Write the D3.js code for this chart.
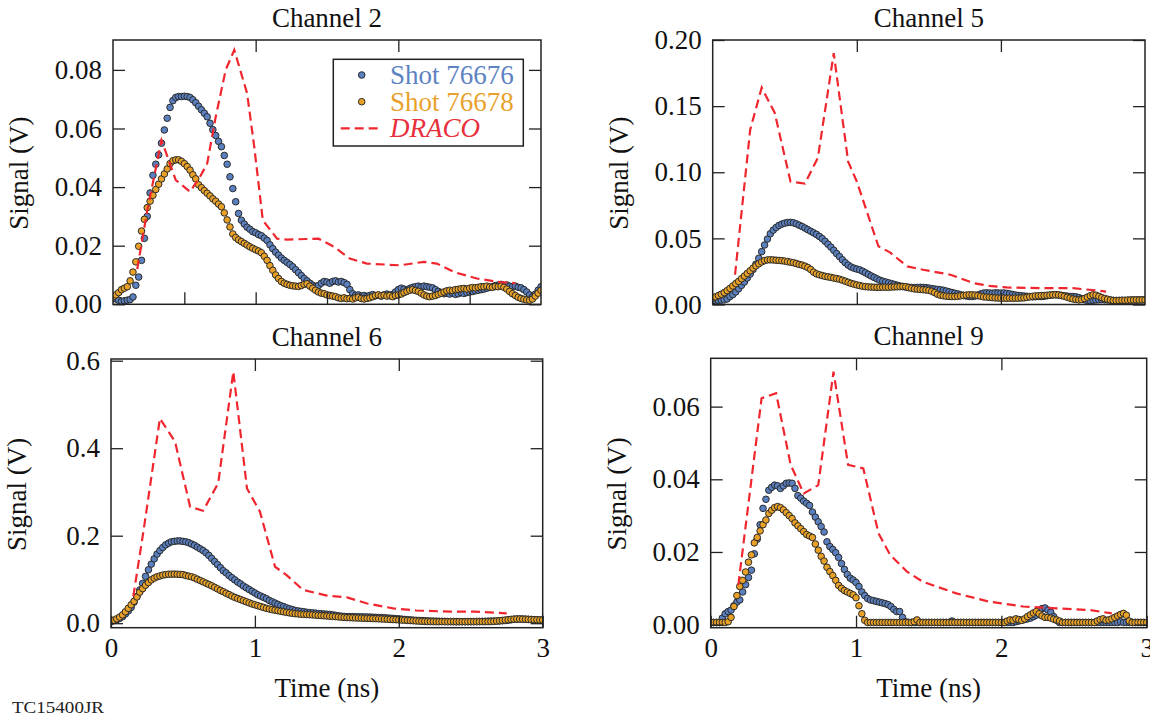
<!DOCTYPE html>
<html><head><meta charset="utf-8">
<script src="https://cdn.jsdelivr.net/npm/d3@7"></script>
<style>
body{margin:0;background:#fff}
</style>
</head><body>
<svg id="chart" width="1150" height="717"></svg>
<script>
// ---------------- DATA ----------------
const sampleStep = 0.02; // ns between digitizer samples (151 samples, 0..3 ns)
const seriesNames = ["Shot 76676", "Shot 76678", "DRACO"];
const channelTitles = ["Channel 2", "Channel 5", "Channel 6", "Channel 9"];
const xTickValues = [0, 1, 2, 3];
const xTickLabels = ["0", "1", "2", "3"];

// Channel 2
const ch2Shot76676 = [
0.0020,0.0018,0.0014,0.0010,0.0012,0.0014,0.0016,0.0025,0.0065,0.0093,
0.0150,0.0225,0.0300,0.0380,0.0440,0.0478,0.0510,0.0550,0.0595,0.0635,
0.0672,0.0695,0.0706,0.0709,0.0709,0.0710,0.0709,0.0706,0.0698,0.0688,
0.0676,0.0664,0.0652,0.0640,0.0618,0.0596,0.0576,0.0556,0.0538,0.0508,
0.0478,0.0435,0.0395,0.0350,0.0310,0.0287,0.0274,0.0263,0.0256,0.0248,
0.0244,0.0238,0.0234,0.0226,0.0218,0.0203,0.0190,0.0178,0.0168,0.0158,
0.0150,0.0143,0.0136,0.0128,0.0118,0.0108,0.0098,0.0088,0.0080,0.0072,
0.0065,0.0060,0.0064,0.0072,0.0078,0.0076,0.0072,0.0078,0.0080,0.0076,
0.0078,0.0074,0.0068,0.0050,0.0036,0.0030,0.0032,0.0028,0.0030,0.0027,
0.0030,0.0033,0.0029,0.0031,0.0028,0.0032,0.0035,0.0030,0.0034,0.0042,
0.0050,0.0055,0.0052,0.0048,0.0054,0.0058,0.0060,0.0062,0.0059,0.0062,
0.0060,0.0058,0.0056,0.0050,0.0044,0.0040,0.0036,0.0038,0.0035,0.0038,
0.0034,0.0036,0.0040,0.0037,0.0040,0.0042,0.0044,0.0046,0.0048,0.0050,
0.0052,0.0055,0.0058,0.0060,0.0064,0.0066,0.0068,0.0063,0.0066,0.0062,
0.0060,0.0062,0.0058,0.0056,0.0050,0.0042,0.0032,0.0026,0.0034,0.0048,
0.0060];
const ch2Shot76678 = [
0.0025,0.0032,0.0040,0.0050,0.0055,0.0060,0.0080,0.0110,0.0145,0.0198,
0.0250,0.0290,0.0330,0.0352,0.0372,0.0392,0.0410,0.0428,0.0445,0.0462,
0.0480,0.0490,0.0493,0.0493,0.0488,0.0480,0.0470,0.0458,0.0442,0.0428,
0.0408,0.0398,0.0388,0.0379,0.0370,0.0360,0.0352,0.0342,0.0333,0.0312,
0.0288,0.0264,0.0240,0.0228,0.0220,0.0214,0.0208,0.0202,0.0196,0.0191,
0.0186,0.0182,0.0176,0.0164,0.0150,0.0132,0.0116,0.0100,0.0088,0.0078,
0.0072,0.0068,0.0065,0.0063,0.0062,0.0061,0.0064,0.0068,0.0070,0.0062,
0.0055,0.0048,0.0042,0.0038,0.0036,0.0032,0.0030,0.0028,0.0026,0.0022,
0.0020,0.0022,0.0019,0.0020,0.0018,0.0022,0.0024,0.0020,0.0018,0.0020,
0.0022,0.0026,0.0030,0.0032,0.0029,0.0031,0.0028,0.0030,0.0026,0.0030,
0.0032,0.0035,0.0040,0.0044,0.0048,0.0050,0.0047,0.0044,0.0038,0.0032,
0.0028,0.0026,0.0028,0.0030,0.0034,0.0038,0.0042,0.0046,0.0048,0.0047,
0.0050,0.0051,0.0053,0.0054,0.0052,0.0055,0.0057,0.0056,0.0058,0.0060,
0.0060,0.0062,0.0059,0.0058,0.0061,0.0060,0.0062,0.0058,0.0052,0.0044,
0.0036,0.0030,0.0024,0.0020,0.0017,0.0015,0.0014,0.0018,0.0028,0.0038,
0.0048];
const ch2DracoTime   = [0.17,0.24,0.34,0.44,0.54,0.61,0.66,0.72,0.79,0.85,0.94,0.99,1.05,1.15,1.22,1.44,1.55,1.66,1.78,2.01,2.18,2.27,2.39,2.55,2.71,2.82];
const ch2DracoSignal = [0.012,0.032,0.056,0.0424,0.0384,0.0435,0.048,0.064,0.080,0.0868,0.072,0.0538,0.0287,0.0224,0.0221,0.0224,0.0196,0.0156,0.0139,0.0133,0.0145,0.0139,0.011,0.0088,0.0076,0.0072];
const ch2YTicks = [0, 0.02, 0.04, 0.06, 0.08];
const ch2YTickLabels = ["0.00", "0.02", "0.04", "0.06", "0.08"];

// Channel 5
const ch5Shot76676 = [
0.0030,0.0030,0.0031,0.0033,0.0035,0.0042,0.0060,0.0075,0.0095,0.0120,
0.0145,0.0170,0.0200,0.0230,0.0265,0.0305,0.0350,0.0400,0.0450,0.0495,
0.0535,0.0562,0.0582,0.0598,0.0608,0.0615,0.0620,0.0621,0.0618,0.0610,
0.0600,0.0590,0.0578,0.0566,0.0554,0.0542,0.0530,0.0515,0.0498,0.0478,
0.0456,0.0434,0.0410,0.0385,0.0362,0.0338,0.0316,0.0298,0.0284,0.0275,
0.0268,0.0262,0.0252,0.0240,0.0228,0.0216,0.0205,0.0194,0.0184,0.0176,
0.0170,0.0164,0.0158,0.0152,0.0146,0.0140,0.0136,0.0132,0.0130,0.0129,
0.0128,0.0129,0.0130,0.0129,0.0127,0.0124,0.0120,0.0117,0.0114,0.0111,
0.0108,0.0102,0.0096,0.0090,0.0085,0.0080,0.0074,0.0069,0.0064,0.0061,
0.0060,0.0064,0.0072,0.0080,0.0086,0.0088,0.0087,0.0085,0.0088,0.0087,
0.0086,0.0087,0.0084,0.0080,0.0076,0.0072,0.0068,0.0066,0.0064,0.0062,
0.0060,0.0058,0.0059,0.0061,0.0060,0.0062,0.0066,0.0070,0.0073,0.0074,
0.0072,0.0069,0.0066,0.0063,0.0061,0.0060,0.0058,0.0052,0.0044,0.0036,
0.0031,0.0030,0.0032,0.0034,0.0035,0.0036,0.0035,0.0034,0.0033,0.0031,
0.0030,0.0030,0.0031,0.0030,0.0032,0.0033,0.0034,0.0033,0.0034,0.0035,
0.0035];
const ch5Shot76678 = [
0.0048,0.0058,0.0068,0.0078,0.0090,0.0105,0.0122,0.0140,0.0158,0.0175,
0.0195,0.0215,0.0235,0.0255,0.0275,0.0292,0.0308,0.0322,0.0332,0.0337,
0.0338,0.0337,0.0335,0.0333,0.0331,0.0328,0.0324,0.0320,0.0316,0.0310,
0.0303,0.0298,0.0290,0.0280,0.0265,0.0245,0.0232,0.0225,0.0219,0.0213,
0.0209,0.0205,0.0200,0.0196,0.0191,0.0184,0.0176,0.0168,0.0160,0.0154,
0.0148,0.0143,0.0138,0.0135,0.0133,0.0132,0.0131,0.0130,0.0130,0.0131,
0.0131,0.0130,0.0132,0.0133,0.0134,0.0135,0.0136,0.0134,0.0128,0.0122,
0.0118,0.0116,0.0114,0.0112,0.0110,0.0107,0.0100,0.0090,0.0078,0.0070,
0.0066,0.0063,0.0061,0.0060,0.0060,0.0062,0.0065,0.0068,0.0071,0.0073,
0.0073,0.0071,0.0067,0.0062,0.0058,0.0056,0.0054,0.0052,0.0050,0.0049,
0.0048,0.0048,0.0047,0.0048,0.0047,0.0048,0.0048,0.0049,0.0050,0.0054,
0.0058,0.0062,0.0065,0.0066,0.0067,0.0068,0.0070,0.0071,0.0073,0.0073,
0.0072,0.0068,0.0062,0.0055,0.0048,0.0042,0.0038,0.0035,0.0037,0.0045,
0.0056,0.0066,0.0073,0.0070,0.0062,0.0052,0.0045,0.0040,0.0034,0.0030,
0.0030,0.0031,0.0032,0.0032,0.0033,0.0034,0.0034,0.0035,0.0034,0.0035,
0.0035];
const ch5DracoTime   = [0.155,0.26,0.34,0.43,0.54,0.64,0.73,0.84,0.94,1.00,1.15,1.23,1.35,1.46,1.65,1.81,1.92,2.04,2.27,2.50,2.73];
const ch5DracoSignal = [0.0225,0.132,0.164,0.145,0.093,0.0914,0.111,0.19,0.108,0.093,0.044,0.0394,0.0288,0.0263,0.0225,0.0162,0.0141,0.0129,0.0124,0.0124,0.0098];
const ch5YTicks = [0, 0.05, 0.10, 0.15, 0.20];
const ch5YTickLabels = ["0.00", "0.05", "0.10", "0.15", "0.20"];

// Channel 6
const ch6Shot76676 = [
0.004,0.006,0.008,0.011,0.015,0.021,0.028,0.036,0.048,0.061,
0.076,0.091,0.107,0.122,0.135,0.147,0.158,0.166,0.173,0.179,
0.183,0.186,0.187,0.188,0.188,0.187,0.186,0.184,0.181,0.178,
0.174,0.170,0.166,0.161,0.155,0.148,0.141,0.134,0.127,0.120,
0.115,0.109,0.104,0.099,0.094,0.090,0.085,0.081,0.077,0.073,
0.069,0.065,0.062,0.059,0.056,0.052,0.049,0.046,0.043,0.040,
0.038,0.035,0.033,0.031,0.029,0.028,0.027,0.026,0.025,0.024,
0.0235,0.023,0.022,0.0215,0.021,0.0205,0.020,0.019,0.018,0.017,
0.016,0.0155,0.015,0.015,0.015,0.0148,0.0146,0.0145,0.0143,0.0141,
0.014,0.0137,0.0134,0.0131,0.0128,0.0125,0.012,0.0114,0.0108,0.0102,
0.0098,0.0092,0.0086,0.008,0.0075,0.007,0.0066,0.0062,0.0058,0.0055,
0.0052,0.005,0.0048,0.0046,0.0044,0.0042,0.004,0.0038,0.0037,0.0036,
0.0035,0.0035,0.0035,0.0035,0.0036,0.0036,0.0037,0.0038,0.004,0.0042,
0.0044,0.0046,0.0048,0.0049,0.005,0.0052,0.0056,0.006,0.0068,0.0078,
0.0088,0.0094,0.0096,0.0095,0.0092,0.0088,0.0084,0.008,0.0076,0.0073,
0.007];
const ch6Shot76678 = [
0.004,0.007,0.010,0.014,0.019,0.026,0.034,0.042,0.050,0.060,
0.071,0.079,0.087,0.093,0.099,0.103,0.106,0.108,0.110,0.111,
0.112,0.112,0.1122,0.112,0.1115,0.111,0.109,0.1075,0.106,0.1035,
0.1005,0.0975,0.0945,0.0915,0.0885,0.0855,0.082,0.0785,0.075,0.072,
0.0685,0.0655,0.062,0.059,0.0565,0.054,0.0515,0.049,0.0465,0.044,
0.042,0.040,0.038,0.036,0.034,0.0325,0.031,0.0297,0.0285,0.0272,
0.026,0.0248,0.0236,0.0226,0.0218,0.0212,0.0206,0.0201,0.0198,0.0194,
0.019,0.0185,0.018,0.0175,0.017,0.0165,0.016,0.0155,0.015,0.0144,
0.0138,0.0133,0.0129,0.0126,0.0123,0.012,0.0118,0.0115,0.0112,0.011,
0.0108,0.0106,0.0103,0.010,0.0097,0.0094,0.009,0.0087,0.0083,0.008,
0.0076,0.0072,0.0068,0.0064,0.006,0.0056,0.0052,0.0048,0.0044,0.0041,
0.0038,0.0036,0.0035,0.0034,0.0034,0.0035,0.0034,0.0034,0.0035,0.0035,
0.0034,0.0035,0.0035,0.0034,0.0035,0.0036,0.0035,0.0035,0.0036,0.0035,
0.0035,0.0036,0.0038,0.0042,0.0048,0.0056,0.0064,0.0072,0.008,0.0088,
0.0093,0.0096,0.0095,0.0093,0.009,0.0087,0.0084,0.0081,0.0078,0.0075,
0.0073];
const ch6DracoTime   = [0.155,0.225,0.34,0.445,0.55,0.64,0.745,0.85,0.945,1.035,1.14,1.22,1.335,1.5,1.64,1.78,1.96,2.12,2.36,2.52,2.75];
const ch6DracoSignal = [0.061,0.209,0.468,0.415,0.266,0.257,0.32,0.575,0.308,0.255,0.129,0.11,0.076,0.063,0.059,0.045,0.034,0.029,0.0264,0.0264,0.0226];
const ch6YTicks = [0, 0.2, 0.4, 0.6];
const ch6YTickLabels = ["0.0", "0.2", "0.4", "0.6"];

// Channel 9
const ch9Shot76676 = [
0.0006,0.0006,0.0006,0.0006,0.0018,0.0030,0.0036,0.0040,0.0052,0.0062,
0.0068,0.0090,0.0110,0.0130,0.0150,0.0195,0.0235,0.0275,0.0320,0.0345,
0.0370,0.0378,0.0384,0.0382,0.0375,0.0382,0.0389,0.0390,0.0389,0.0375,
0.0355,0.0348,0.0340,0.0334,0.0328,0.0310,0.0296,0.0283,0.0270,0.0255,
0.0228,0.0215,0.0207,0.0198,0.0185,0.0168,0.0152,0.0138,0.0128,0.0123,
0.0116,0.0105,0.0090,0.0080,0.0072,0.0068,0.0066,0.0064,0.0062,0.0060,
0.0058,0.0055,0.0050,0.0042,0.0036,0.0036,0.0020,0.0008,0.0006,0.0006,
0.0006,0.0006,0.0006,0.0006,0.0006,0.0006,0.0006,0.0006,0.0006,0.0006,
0.0006,0.0006,0.0006,0.0010,0.0006,0.0006,0.0006,0.0006,0.0006,0.0006,
0.0006,0.0006,0.0006,0.0006,0.0006,0.0006,0.0006,0.0006,0.0006,0.0006,
0.0006,0.0006,0.0006,0.0006,0.0006,0.0008,0.0010,0.0012,0.0014,0.0016,
0.0018,0.0022,0.0026,0.0034,0.0044,0.0046,0.0040,0.0034,0.0022,0.0012,
0.0006,0.0006,0.0006,0.0006,0.0006,0.0006,0.0006,0.0006,0.0006,0.0006,
0.0006,0.0006,0.0006,0.0006,0.0006,0.0006,0.0006,0.0006,0.0006,0.0006,
0.0006,0.0008,0.0006,0.0006,0.0006,0.0006,0.0006,0.0006,0.0006,0.0006,
0.0006];
const ch9Shot76678 = [
0.0006,0.0006,0.0006,0.0006,0.0006,0.0006,0.0008,0.0020,0.0050,0.0080,
0.0105,0.0122,0.0145,0.0172,0.0192,0.0225,0.0240,0.0258,0.0275,0.0288,
0.0306,0.0315,0.0322,0.0325,0.0322,0.0316,0.0308,0.0300,0.0292,0.0280,
0.0272,0.0264,0.0256,0.0248,0.0244,0.0240,0.0222,0.0205,0.0188,0.0175,
0.0158,0.0146,0.0135,0.0122,0.0108,0.0100,0.0094,0.0090,0.0086,0.0082,
0.0074,0.0052,0.0030,0.0012,0.0006,0.0006,0.0006,0.0006,0.0006,0.0006,
0.0006,0.0006,0.0006,0.0006,0.0006,0.0006,0.0006,0.0006,0.0006,0.0006,
0.0008,0.0013,0.0006,0.0006,0.0006,0.0006,0.0006,0.0006,0.0006,0.0006,
0.0006,0.0006,0.0006,0.0006,0.0006,0.0006,0.0006,0.0006,0.0006,0.0006,
0.0006,0.0006,0.0006,0.0006,0.0006,0.0006,0.0006,0.0006,0.0006,0.0006,
0.0006,0.0006,0.0010,0.0013,0.0012,0.0016,0.0014,0.0012,0.0016,0.0022,
0.0027,0.0032,0.0036,0.0030,0.0024,0.0020,0.0020,0.0018,0.0015,0.0013,
0.0010,0.0006,0.0006,0.0006,0.0006,0.0006,0.0006,0.0006,0.0006,0.0006,
0.0006,0.0006,0.0006,0.0010,0.0014,0.0016,0.0012,0.0013,0.0016,0.0020,
0.0024,0.0028,0.0031,0.0026,0.0010,0.0006,0.0006,0.0006,0.0006,0.0006,
0.0006];
const ch9DracoTime   = [0.19,0.35,0.45,0.55,0.64,0.74,0.845,0.945,1.05,1.155,1.235,1.35,1.46,1.69,1.92,2.15,2.38,2.61,2.76];
const ch9DracoSignal = [0.0109,0.0623,0.0637,0.044,0.0361,0.0384,0.0696,0.044,0.043,0.0251,0.0192,0.0146,0.0118,0.0086,0.0063,0.005,0.0045,0.004,0.0031];
const ch9YTicks = [0, 0.02, 0.04, 0.06];
const ch9YTickLabels = ["0.00", "0.02", "0.04", "0.06"];

// ---------------- LAYOUT / STYLE ----------------
const FONT = 27;
const SERIF = '"Liberation Serif","Tinos","Nimbus Roman","Times New Roman",Times,serif';
const colors = { blue: "#5b80c0", orange: "#e9a227", red: "#f0262e", blueText: "#5d82c2", orangeText: "#e8a12c", redText: "#e8303c", axis: "#222" };

const panels = [
  { title: channelTitles[0], a: ch2Shot76676, b: ch2Shot76678, dt: ch2DracoTime, dv: ch2DracoSignal,
    yt: ch2YTicks, yl: ch2YTickLabels, frame: [113, 40, 541, 304.3], ydom: [0, 0.0902], xlabels: false, legend: true, bottomTicks: [0.5, 1, 1.5, 2, 2.5] },
  { title: channelTitles[1], a: ch5Shot76676, b: ch5Shot76678, dt: ch5DracoTime, dv: ch5DracoSignal,
    yt: ch5YTicks, yl: ch5YTickLabels, frame: [712.7, 40, 1145, 304.5], ydom: [0, 0.2], xlabels: false, legend: false, bottomTicks: [1, 2] },
  { title: channelTitles[2], a: ch6Shot76676, b: ch6Shot76678, dt: ch6DracoTime, dv: ch6DracoSignal,
    yt: ch6YTicks, yl: ch6YTickLabels, frame: [111, 359, 542.7, 627.7], ydom: [-0.0103, 0.6039], xlabels: true, legend: false, bottomTicks: [0, 1, 2, 3] },
  { title: channelTitles[3], a: ch9Shot76676, b: ch9Shot76678, dt: ch9DracoTime, dv: ch9DracoSignal,
    yt: ch9YTicks, yl: ch9YTickLabels, frame: [710.7, 358.3, 1146.7, 627.7], ydom: [-0.00084, 0.0733], xlabels: true, legend: false, bottomTicks: [0, 1, 2, 3] }
];

const svg = d3.select("#chart");

panels.forEach((p, pi) => {
  const [x0, y0, x1, y1] = p.frame;
  const x = d3.scaleLinear().domain([0, 3]).range([x0, x1]);
  const y = d3.scaleLinear().domain(p.ydom).range([y1, y0]);
  const g = svg.append("g");

  const clipId = "clip" + pi;
  g.append("clipPath").attr("id", clipId).append("rect")
    .attr("x", x0).attr("y", y0).attr("width", x1 - x0).attr("height", y1 - y0);

  const plot = g.append("g").attr("clip-path", `url(#${clipId})`);

  const pts = (arr) => arr.map((v, i) => ({ t: i * sampleStep, v }));

  plot.append("g").selectAll("circle").data(pts(p.a)).join("circle")
    .attr("cx", d => x(d.t)).attr("cy", d => y(d.v)).attr("r", 3.3)
    .attr("fill", colors.blue).attr("stroke", "#2a2a2a").attr("stroke-width", 1);
  plot.append("g").selectAll("circle").data(pts(p.b)).join("circle")
    .attr("cx", d => x(d.t)).attr("cy", d => y(d.v)).attr("r", 3.3)
    .attr("fill", colors.orange).attr("stroke", "#2a2a2a").attr("stroke-width", 1);

  const dr = p.dt.map((t, i) => ({ t, v: p.dv[i] }));
  plot.append("path").datum(dr)
    .attr("d", d3.line().x(d => x(d.t)).y(d => y(d.v)))
    .attr("fill", "none").attr("stroke", colors.red).attr("stroke-width", 2.2)
    .attr("stroke-dasharray", "9,5");

  const styleAxis = (sel) => {
    sel.attr("font-family", SERIF).attr("font-size", FONT);
    sel.select(".domain").remove();
    sel.selectAll(".tick line").attr("stroke", colors.axis).attr("stroke-width", 1.3);
    sel.selectAll(".tick text").attr("fill", "#111");
  };
  const tickFmt = (vals, labels) => (d) => labels[vals.indexOf(d)];

  g.append("g").attr("transform", `translate(${x0},0)`)
    .call(d3.axisLeft(y).tickValues(p.yt).tickFormat(tickFmt(p.yt, p.yl)).tickSize(-12).tickPadding(11))
    .call(styleAxis);
  g.append("g").attr("transform", `translate(${x1},0)`)
    .call(d3.axisRight(y).tickValues(p.yt).tickFormat("").tickSize(-12))
    .call(styleAxis);
  g.append("g").attr("transform", `translate(0,${y0})`)
    .call(d3.axisTop(x).tickValues([1, 2]).tickFormat("").tickSize(-12))
    .call(styleAxis);
  const bottom = g.append("g").attr("transform", `translate(0,${y1})`)
    .call(d3.axisBottom(x).tickValues(p.xlabels ? xTickValues : p.bottomTicks)
      .tickFormat(p.xlabels ? tickFmt(xTickValues, xTickLabels) : "")
      .tickSize(-12).tickPadding(10.5))
    .call(styleAxis);
  bottom.selectAll(".tick text").attr("dy", "0.71em");

  g.append("rect").attr("x", x0).attr("y", y0).attr("width", x1 - x0).attr("height", y1 - y0)
    .attr("fill", "none").attr("stroke", colors.axis).attr("stroke-width", 1.5);

  g.append("text").attr("x", (x0 + x1) / 2).attr("y", y0 - 13)
    .attr("text-anchor", "middle").attr("font-family", SERIF).attr("font-size", FONT).attr("fill", "#111")
    .text(p.title);

  const cy = (y0 + y1) / 2 + 1;
  const cx = x0 - 85;
  g.append("text").attr("transform", `translate(${cx},${cy}) rotate(-90)`)
    .attr("text-anchor", "middle").attr("font-family", SERIF).attr("font-size", FONT).attr("fill", "#111")
    .text("Signal (V)");

  if (p.xlabels) {
    g.append("text").attr("x", (x0 + x1) / 2).attr("y", 697)
      .attr("text-anchor", "middle").attr("font-family", SERIF).attr("font-size", FONT).attr("fill", "#111")
      .text("Time (ns)");
  }

  if (p.legend) {
    const L = g.append("g");
    L.append("rect").attr("x", 333.3).attr("y", 59.3).attr("width", 190).attr("height", 86.7)
      .attr("fill", "#fff").attr("stroke", colors.axis).attr("stroke-width", 1.5);
    const rows = [
      { name: seriesNames[0], kind: "pt", fill: colors.blue, text: colors.blueText, yy: 75 },
      { name: seriesNames[1], kind: "pt", fill: colors.orange, text: colors.orangeText, yy: 101.7 },
      { name: seriesNames[2], kind: "ln", fill: colors.red, text: colors.redText, yy: 128.3 }
    ];
    rows.forEach(r => {
      if (r.kind === "pt") {
        L.append("circle").attr("cx", 361.7).attr("cy", r.yy).attr("r", 3.3)
          .attr("fill", r.fill).attr("stroke", "#2a2a2a").attr("stroke-width", 1);
      } else {
        L.append("line").attr("x1", 340.7).attr("x2", 382).attr("y1", r.yy).attr("y2", r.yy)
          .attr("stroke", colors.red).attr("stroke-width", 2.2).attr("stroke-dasharray", "9,5");
      }
      L.append("text").attr("x", 390).attr("y", r.yy + 9)
        .attr("font-family", SERIF).attr("font-size", FONT)
        .attr("font-style", r.kind === "ln" ? "italic" : "normal")
        .attr("fill", r.text).text(r.name);
    });
  }
});

svg.append("text").attr("x", 12).attr("y", 713).attr("font-family", SERIF).attr("font-size", 17).attr("fill", "#222")
  .attr("textLength", 92).attr("lengthAdjust", "spacingAndGlyphs")
  .text("TC15400JR");
</script>
</body></html>
